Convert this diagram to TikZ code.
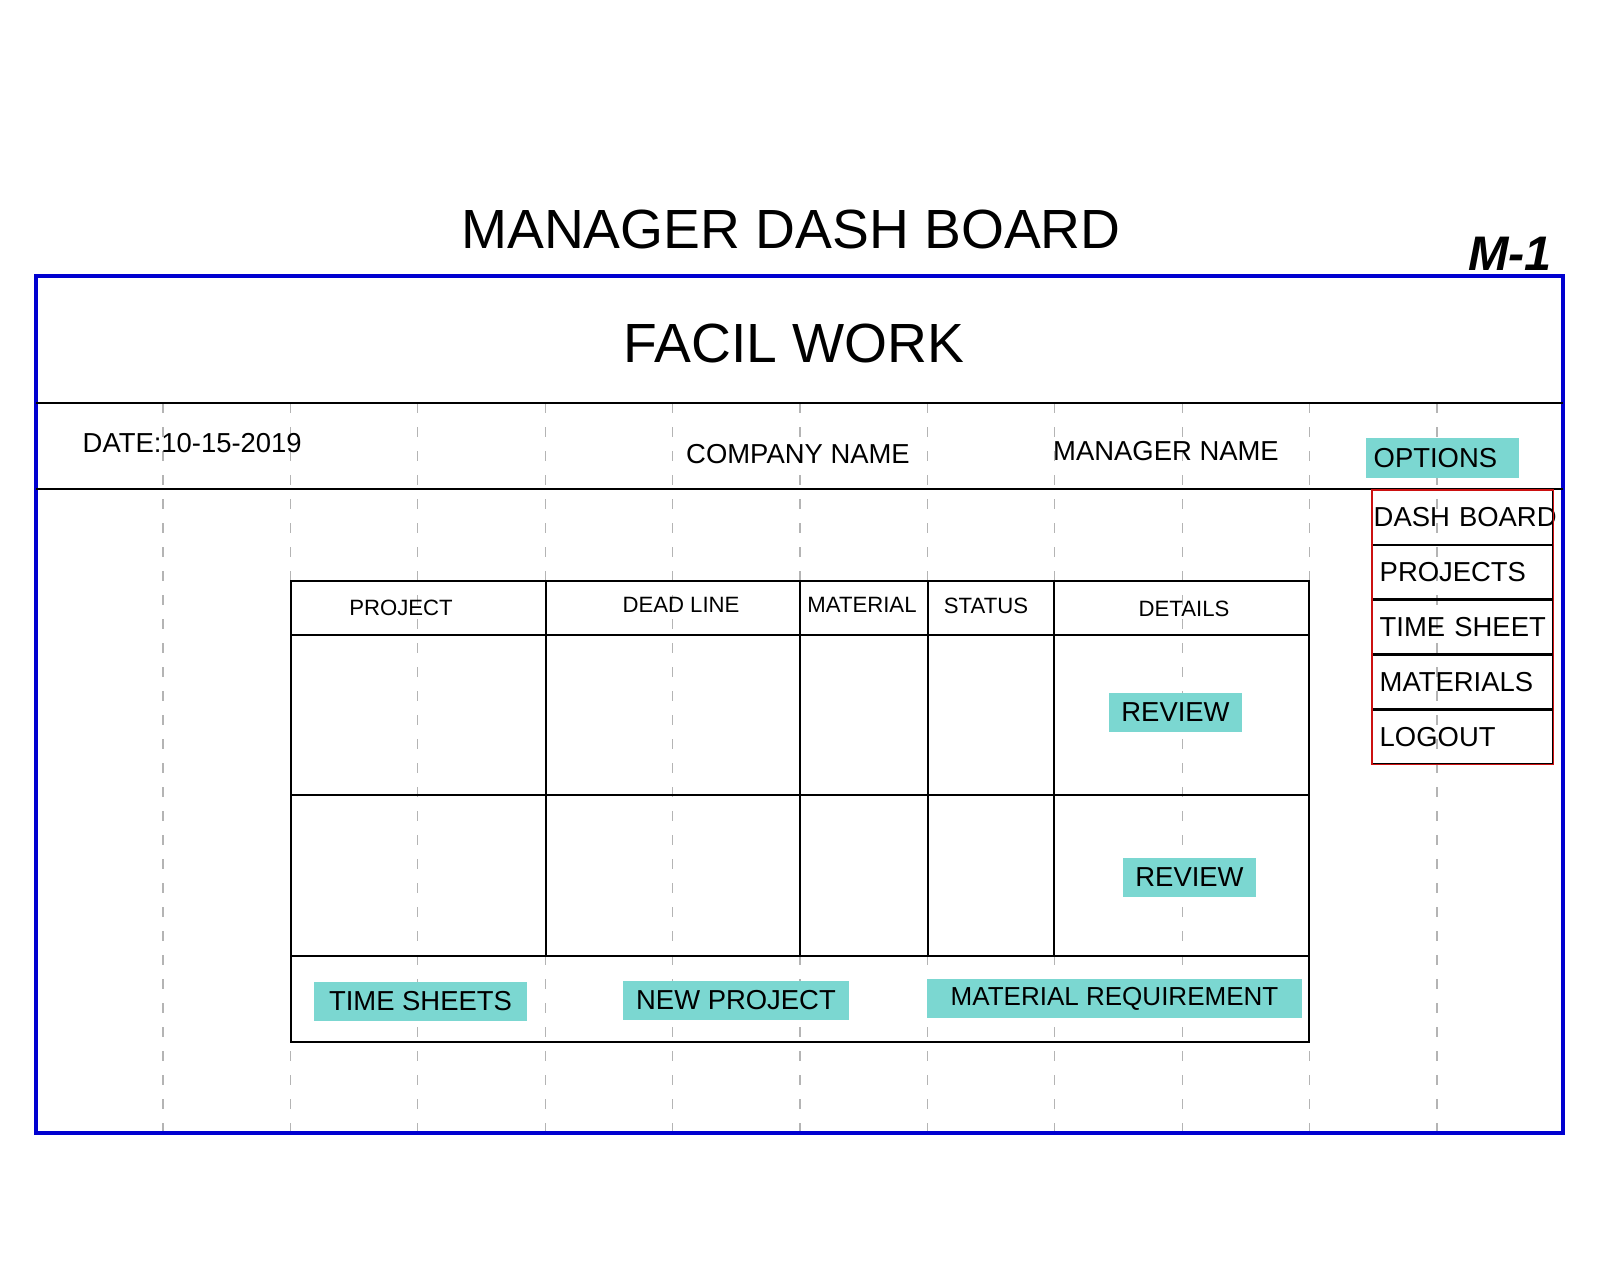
\documentclass[tikz,border=0pt]{standalone}
\usepackage{fontspec}
\setmainfont{Liberation Sans}
\usepackage{xcolor}
\usetikzlibrary{positioning}

\begin{document}
\begin{tikzpicture}[
    x=0.01cm, y=-0.01cm,
    frameline/.style={
        draw=framecolor,
        line width=1.1pt
    },
    rule/.style={
        draw=black,
        line width=0.4pt
    },
    gridline/.style={
        draw=gridcolor,
        line width=0.3pt,
        dash pattern=on 0.1cm off 0.14cm
    },
    titletext/.style={
        font=\fontsize{15.7}{18}\selectfont
    },
    headtext/.style={
        font=\fontsize{6.3}{7.5}\selectfont
    },
    button/.style={
        rectangle,
        fill=buttoncolor,
        inner sep=0pt,
        minimum height=0.39cm
    },
    menuitem/.style={
        rectangle,
        draw=black,
        line width=0.4pt,
        minimum width=1.8cm,
        minimum height=0.535cm,
        text width=1.66cm,
        inner xsep=0.07cm,
        inner ysep=0pt,
        align=left
    },
    every node/.style={
        font=\fontsize{7.8}{9}\selectfont
    }
]

% Color Palette
\definecolor{framecolor}{HTML}{0000D0}
\definecolor{menucolor}{HTML}{CC1111}
\definecolor{buttoncolor}{HTML}{7BD7D1}
\definecolor{gridcolor}{HTML}{B4B4B4}

\useasboundingbox (0,0) rectangle (1600,1280);

% Guide lines
\foreach \k in {0,...,10}
    \draw[gridline] ({163+127.4*\k},403) -- ({163+127.4*\k},1133);

% Title and sheet number
\node[titletext] (title) at (791,230) {MANAGER DASH BOARD};
\node[font=\fontsize{13.8}{15}\selectfont\bfseries\itshape] (sheet) at (1510,254) {M-1};

% Frame and header bands
\draw[frameline] (36,276) rectangle (1563,1133);
\draw[rule] (36,403) -- (1563,403);
\draw[rule] (36,489) -- (1563,489);
\node[titletext] (app) at (794,344) {FACIL WORK};

% Info band
\node[anchor=west, inner sep=0pt] (date) at (82,443) {DATE:10-15-2019};
\node (company) at (798,454) {COMPANY NAME};
\node (manager) at (1166,451) {MANAGER NAME};
\node[button, anchor=north west, minimum height=0.40cm, text width=1.37cm,
      inner xsep=0.08cm, align=left] (options) at (1365,437) {OPTIONS};

% Options menu
\node[menuitem, anchor=north west, inner xsep=0.01cm, text width=1.78cm] (dashboard) at (1372,490) {\mbox{DASH BOARD}};
\node[menuitem, below=0pt of dashboard] (projects) {PROJECTS};
\node[menuitem, below=0pt of projects] (timesheet) {\mbox{TIME SHEET}};
\node[menuitem, below=0pt of timesheet] (materials) {MATERIALS};
\node[menuitem, below=0pt of materials] (logout) {LOGOUT};
\draw[draw=menucolor, line width=0.4pt] (dashboard.north west) rectangle (logout.south east);

% Project table
\draw[rule] (291,581) rectangle (1309,1042);
\draw[rule] (291,635) -- (1309,635);
\draw[rule] (291,795) -- (1309,795);
\draw[rule] (291,956) -- (1309,956);
\foreach \cx in {546,800,928,1054}
    \draw[rule] (\cx,581) -- (\cx,956);

\node[headtext] (hproject) at (401,608) {PROJECT};
\node[headtext] (hdeadline) at (681,605) {DEAD LINE};
\node[headtext] (hmaterial) at (862,605) {MATERIAL};
\node[headtext] (hstatus) at (986,606) {STATUS};
\node[headtext] (hdetails) at (1184,609) {DETAILS};

% Review buttons
\node[button, minimum width=1.33cm] (reviewa) at (1175.5,712.5) {REVIEW};
\node[button, minimum width=1.33cm] (reviewb) at (1189.5,877.5) {REVIEW};

% Bottom buttons
\node[button, minimum width=2.13cm] (timesheets) at (420.5,1001.5) {TIME SHEETS};
\node[button, minimum width=2.26cm] (newproject) at (736,1000.5) {NEW PROJECT};
\node[button, minimum width=3.75cm, font=\fontsize{7.4}{9}\selectfont] (matreq) at (1114.5,998.5) {MATERIAL REQUIREMENT};

\end{tikzpicture}
\end{document}
